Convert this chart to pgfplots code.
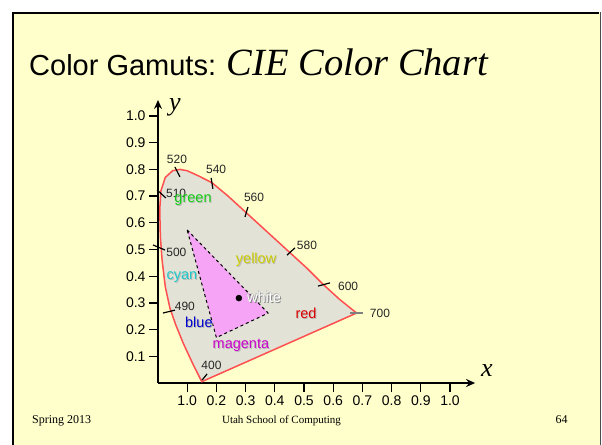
\documentclass[border=0pt]{standalone}
\usepackage{pgfplots}
\pgfplotsset{compat=1.18}
\usepackage{fontspec}
\setmainfont{Liberation Sans}
\newfontfamily\timesf{Liberation Serif}
\usetikzlibrary{arrows.meta}
\definecolor{slidebg}{RGB}{255,255,204}
\definecolor{gamutfill}{RGB}{226,226,214}
\definecolor{gamutred}{RGB}{255,80,80}
\definecolor{pinkfill}{RGB}{246,164,246}
\definecolor{lgreen}{RGB}{20,204,20}
\definecolor{lyellow}{RGB}{204,204,0}
\definecolor{lcyan}{RGB}{30,200,200}
\definecolor{lblue}{RGB}{0,0,204}
\definecolor{lmagenta}{RGB}{204,0,204}
\definecolor{lred}{RGB}{220,0,0}
\newcommand{\clabel}[4][gray!55]{%
  \node[text=#1,font=\fontsize{14.5bp}{16bp}\selectfont] at ([xshift=0.9bp,yshift=-0.9bp]axis cs:#2) {#4};
  \node[text=#3,font=\fontsize{14.5bp}{16bp}\selectfont] at (axis cs:#2) {#4};}
\begin{document}
\begin{tikzpicture}
\useasboundingbox (0,0) rectangle (602bp,-445bp);
\begin{scope}[x=1bp,y=-1bp]
\fill[white] (0,0) rectangle (602,445);
\fill[slidebg] (12,12) rectangle (600,446);
\draw[black,line width=2bp] (13,446) -- (13,13) -- (599,13);
\draw[black!70,line width=1bp] (600,12) -- (600,446);
\node[anchor=base west,inner sep=0] at (29,75) {\fontsize{29bp}{32bp}\selectfont Color Gamuts: {\timesf\itshape\fontsize{38.5bp}{42bp}\selectfont CIE Color Chart}};
\node[anchor=base west,inner sep=0] at (32,423) {\timesf\fontsize{12bp}{14bp}\selectfont Spring 2013};
\node[anchor=base,inner sep=0] at (281.5,423) {\timesf\fontsize{11bp}{13bp}\selectfont Utah School of Computing};
\node[anchor=base,inner sep=0] at (561.5,423) {\timesf\fontsize{12bp}{14bp}\selectfont 64};
\node at (487,371) {\timesf\itshape\fontsize{26bp}{28bp}\selectfont x};
\node at (175,107) {\timesf\itshape\fontsize{26bp}{28bp}\selectfont y};
\end{scope}
\begin{axis}[
  anchor=origin, at={(158bp,-383bp)},
  x=292bp, y=267bp,
  xmin=0, xmax=1.086, ymin=0, ymax=1.06,
  axis lines=left,
  axis line style={line width=1.6bp, -{Stealth[length=9bp,width=8bp]}},
  xtick={0.1,0.2,0.3,0.4,0.5,0.6,0.7,0.8,0.9,1.0},
  ytick={0.1,0.2,0.3,0.4,0.5,0.6,0.7,0.8,0.9,1.0},
  xticklabels={1.0,0.2,0.3,0.4,0.5,0.6,0.7,0.8,0.9,1.0},
  yticklabels={0.1,0.2,0.3,0.4,0.5,0.6,0.7,0.8,0.9,1.0},
  tick align=outside, major tick length=9bp,
  tick style={line width=1.3bp, black},
  ticklabel style={font=\fontsize{14bp}{16bp}\selectfont},
  /pgf/number format/assume math mode=true,
  clip=false,
]
\addplot[fill=gamutfill, draw=gamutred, line width=1.5bp] coordinates {
(0.150,0.005) (0.120,0.07) (0.086,0.15) (0.060,0.22) (0.041,0.28) (0.025,0.36)
(0.014,0.46) (0.008,0.55) (0.006,0.65) (0.010,0.72) (0.025,0.77) (0.050,0.795)
(0.075,0.80) (0.10,0.795) (0.14,0.775) (0.185,0.75) (0.24,0.70) (0.30,0.64)
(0.37,0.57) (0.45,0.49) (0.51,0.43) (0.565,0.37) (0.62,0.315) (0.68,0.262)
} -- cycle;
\addplot[fill=pinkfill, draw=black, dashed, line width=1bp] coordinates {
(0.10,0.573) (0.377,0.262) (0.20,0.17)} -- cycle;
\addplot[only marks, mark=*, mark size=3bp, black] coordinates {(0.277,0.318)};
\addplot[black, line width=1.2bp] coordinates {(0.058,0.809) (0.075,0.772)};
\addplot[black, line width=1.2bp] coordinates {(0.182,0.768) (0.188,0.727)};
\addplot[black, line width=1.2bp] coordinates {(0.308,0.659) (0.298,0.622)};
\addplot[black, line width=1.2bp] coordinates {(-0.003,0.723) (0.027,0.693)};
\addplot[black, line width=1.2bp] coordinates {(-0.017,0.517) (0.024,0.498)};
\addplot[black, line width=1.2bp] coordinates {(0.017,0.262) (0.058,0.273)};
\addplot[black, line width=1.2bp] coordinates {(0.151,0.011) (0.168,0.034)};
\addplot[black, line width=1.2bp] coordinates {(0.442,0.479) (0.469,0.506)};
\addplot[black, line width=1.2bp] coordinates {(0.548,0.363) (0.589,0.375)};
\addplot[gray, line width=1.2bp] coordinates {(0.658,0.262) (0.702,0.262)};
\begin{scope}[every node/.style={font=\fontsize{12bp}{14bp}\selectfont, text=black!85}]
\node at (axis cs:0.065,0.838) {520};
\node at (axis cs:0.199,0.801) {540};
\node at (axis cs:0.329,0.697) {560};
\node at (axis cs:0.062,0.712) {510};
\node at (axis cs:0.063,0.491) {500};
\node at (axis cs:0.092,0.288) {490};
\node at (axis cs:0.183,0.067) {400};
\node at (axis cs:0.510,0.517) {580};
\node at (axis cs:0.651,0.363) {600};
\node at (axis cs:0.760,0.262) {700};
\end{scope}
\clabel{0.120,0.685}{lgreen}{green}
\clabel{0.336,0.461}{lyellow}{yellow}
\clabel{0.082,0.397}{lcyan}{cyan}
\clabel{0.140,0.228}{lblue}{blue}
\clabel{0.284,0.142}{lmagenta}{magenta}
\clabel{0.507,0.262}{lred}{red}
\node[text=gray,font=\fontsize{14.5bp}{16bp}\selectfont] at ([xshift=1.1bp,yshift=-1.1bp]axis cs:0.363,0.322) {white};
\node[text=gray!60,font=\fontsize{14.5bp}{16bp}\selectfont] at ([xshift=-0.5bp,yshift=0.5bp]axis cs:0.363,0.322) {white};
\node[text=white,font=\fontsize{14.5bp}{16bp}\selectfont] at (axis cs:0.363,0.322) {white};
\end{axis}
\end{tikzpicture}
\end{document}
